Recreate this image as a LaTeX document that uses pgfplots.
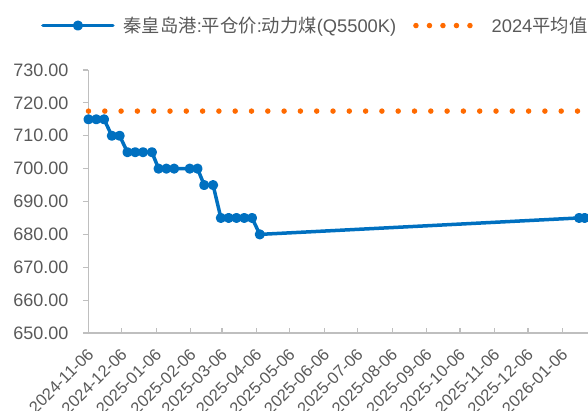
\documentclass[border=0pt]{standalone}
\usepackage{pgfplots}
\pgfplotsset{compat=1.18}
\usepackage{fontspec}
\setmainfont{Liberation Sans}
\newfontfamily\cjk{Noto Sans CJK SC}
\definecolor{txt}{HTML}{595959}
\definecolor{axgray}{HTML}{BFBFBF}
\definecolor{blue1}{HTML}{0070C0}
\definecolor{org}{HTML}{FF6A00}
\pgfplotsset{
  bluelegend/.style={legend image code/.code={\draw[mark repeat=2,mark phase=2,line cap=round,##1] plot coordinates {(0pt,0pt) (35pt,0pt) (70pt,0pt)};}},
  orglegend/.style={legend image code/.code={\draw[##1, dash pattern=on 0pt off 13.5pt] (0pt,0pt) -- (64pt,0pt);}},
}
\begin{document}
\begin{tikzpicture}
\useasboundingbox (-88.5pt,-77pt) rectangle (499.5pt,333pt);
\begin{axis}[
  scale only axis, width=499.5pt, height=263pt,
  xmin=0, xmax=449, ymin=650, ymax=730,
  clip=false,
  axis lines=left,
  axis line style={axgray, line width=1.2pt, -},
  tick style={axgray, line width=1.2pt},
  major tick length=5.5pt, tick align=outside,
  x tick style={yshift=5.5pt},
  ytick={650,660,670,680,690,700,710,720,730},
  xtick={0,30,61,92,120,151,181,212,242,273,304,334,365,395,426},
  xticklabels={2024-11-06,2024-12-06,2025-01-06,2025-02-06,2025-03-06,2025-04-06,2025-05-06,2025-06-06,2025-07-06,2025-08-06,2025-09-06,2025-10-06,2025-11-06,2025-12-06,2026-01-06},
  /pgf/number format/assume math mode=true,
  /pgf/number format/fixed, /pgf/number format/fixed zerofill,
  /pgf/number format/precision=2, /pgf/number format/1000 sep={},
  y tick label style={font=\fontsize{18}{20}\selectfont, text=txt, xshift=-11pt},
  x tick label style={font=\fontsize{16.5}{19}\selectfont, text=txt, xshift=4.6pt, yshift=-10.5pt, rotate=45, anchor=east},
  legend columns=2,
  legend style={at={(-0.0951,1.169)}, anchor=west, draw=none, fill=none, inner sep=0pt,
    font=\fontsize{18.3}{21}\selectfont, text=txt,
    /tikz/every even column/.append style={column sep=15pt},
    /tikz/every odd column/.append style={column sep=7pt}},
  legend cell align=left,
]
\addplot[blue1, line width=3.5pt, line join=round, mark=*, mark size=3.3pt,
  mark options={solid, draw=none, fill=blue1}, bluelegend]
  table {
x y
0 715
7 715
14 715
21 710
28 710
35 705
42 705
49 705
57 705
63 700
70 700
77 700
91 700
98 700
104 695
112 695
119 685
126 685
133 685
140 685
147 685
154 680
441 685
446 685
};
\addlegendentry{{\cjk 秦皇岛港}:{\cjk 平仓价}:{\cjk 动力煤}(Q5500K)}
\addplot[org, line width=5.5pt, line cap=round, dash pattern=on 0pt off 16.3pt, orglegend]
  coordinates {(0,717.5) (449,717.5)};
\addlegendentry{2024{\cjk 平均值}}
\end{axis}
\end{tikzpicture}
\end{document}
